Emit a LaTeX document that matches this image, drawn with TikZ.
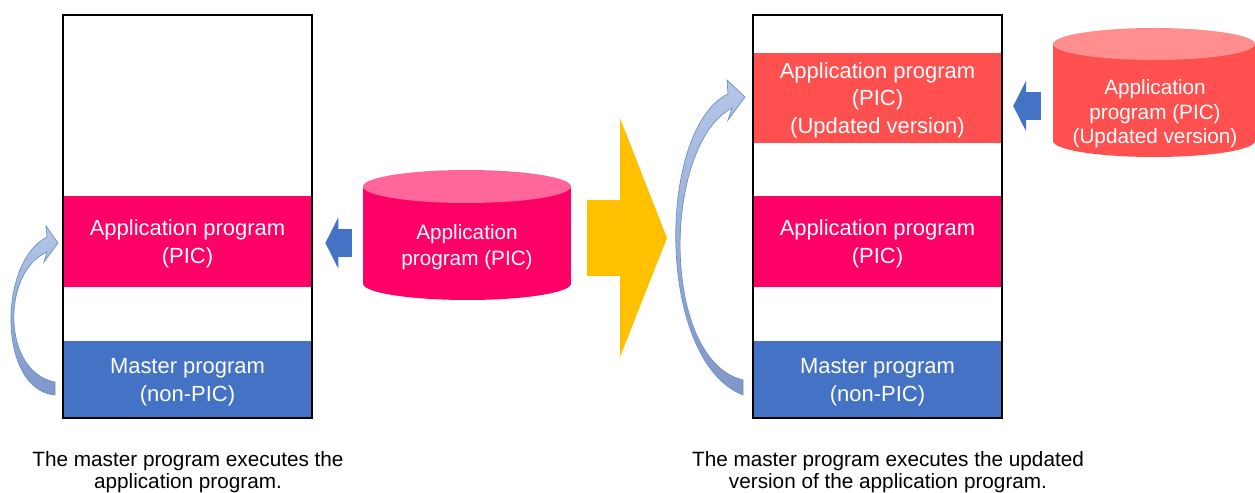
\documentclass[tikz,border=0pt]{standalone}
\usepackage{fontspec}
\setmainfont{Liberation Sans}
\usepackage{xcolor}
\usepackage{tikz}
\usetikzlibrary{arrows.meta}

\definecolor{picpink}{HTML}{FF0066}
\definecolor{picpinktop}{HTML}{FF6699}
\definecolor{picred}{HTML}{FF5050}
\definecolor{picredtop}{HTML}{FF8F8F}
\definecolor{masterblue}{HTML}{4472C4}
\definecolor{bigyellow}{HTML}{FFC000}
\definecolor{curvetop}{HTML}{B4C7E7}
\definecolor{curvebot}{HTML}{7F96C8}

\begin{document}
\begin{tikzpicture}[x=0.02cm, y=-0.02cm, >=Latex,
  band/.style={minimum width=4.98cm, inner sep=0pt, align=center, text=white, text depth=-1.6pt, font=\fontsize{12.5}{15.9}\selectfont},
  cyltext/.style={align=center, text=white, inner sep=0pt, font=\fontsize{11.8}{14.7}\selectfont},
  caption/.style={align=center, inner sep=0pt, font=\fontsize{11.8}{12.6}\selectfont},
  column/.style={draw=black, line width=0.8pt, minimum width=4.98cm, minimum height=8.06cm, inner sep=0pt},
  blockarrow/.style={masterblue, line width=15.9pt, -{Triangle[length=7.4pt, width=28.9pt]}},
  curve/.style={top color=curvetop, bottom color=curvebot, draw=masterblue!80, line width=0.4pt}]
  \useasboundingbox (0,0) rectangle (1255,493);

  % left column
  \node[band, fill=picpink, minimum height=1.82cm] (appL) at (187.5,241.5) {Application program\\(PIC)};
  \node[band, fill=masterblue, minimum height=1.54cm] (masterL) at (187.5,379.5) {Master program\\(non-PIC)};
  \node[column] (colL) at (187.5,216.5) {};

  % first cylinder
  \fill[picpink] (363,186.5) rectangle (571,283.5);
  \fill[picpink] (467,283.5) ellipse [x radius=104, y radius=16.5];
  \fill[picpinktop] (467,186.5) ellipse [x radius=104, y radius=16.5];
  \node[cyltext] (cylL) at (467,247.5) {Application\\program (PIC)};
  \coordinate (cylLwest) at (363,243);
  \draw[blockarrow, shorten <=6.2pt, shorten >=7.4pt] (cylLwest) -- (cylLwest -| appL.east);

  % big arrow
  \fill[bigyellow] (587,200) -- (620,200) -- (620,118) -- (667,238) -- (620,357) -- (620,276) -- (587,276) -- cycle;

  % right column
  \node[band, fill=picred, minimum height=1.80cm] (updR) at (877.5,98) {Application program\\(PIC)\\(Updated version)};
  \node[band, fill=picpink, minimum height=1.82cm] (appR) at (877.5,241.5) {Application program\\(PIC)};
  \node[band, fill=masterblue, minimum height=1.54cm] (masterR) at (877.5,379.5) {Master program\\(non-PIC)};
  \node[column] (colR) at (877.5,216.5) {};

  % second cylinder
  \fill[picred] (1053,44) rectangle (1255,141);
  \fill[picred] (1154,141) ellipse [x radius=101, y radius=16];
  \fill[picredtop] (1154,44) ellipse [x radius=101, y radius=16];
  \node[cyltext, font=\fontsize{11.8}{13.9}\selectfont] (cylR) at (1155,114) {Application\\program (PIC)\\(Updated version)};
  \coordinate (cylRwest) at (1053,106);
  \draw[blockarrow, shorten <=6.8pt, shorten >=6.2pt] (cylRwest) -- (cylRwest -| updR.east);

  % curved arrows
  \path[curve] (55,382) .. controls (1.5,372) and (1.5,272) .. (47,252) -- (44,262) -- (58,243)
    -- (46,226) -- (47,237) .. controls (-2.3,262) and (-2.3,390) .. (55,395) -- cycle;
  \path[curve] (743,380) .. controls (660,360) and (662,145) .. (732,108) -- (728,120) -- (745,97)
    -- (727,80) -- (728,94) .. controls (657,128) and (655,360) .. (743,395) -- cycle;

  % captions
  \node[caption] (capL) at (188,472) {The master program executes the\\application program.};
  \node[caption] (capR) at (888,472) {The master program executes the updated\\version of the application program.};
\end{tikzpicture}
\end{document}
